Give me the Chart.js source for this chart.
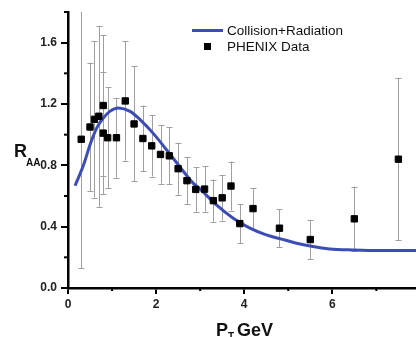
<!DOCTYPE html>
<html>
<head>
<meta charset="utf-8">
<script src="https://cdn.jsdelivr.net/npm/chart.js@4.4.1/dist/chart.umd.min.js"></script>
<style>
    html, body { margin: 0; padding: 0; background: #fff; }
    #wrap { width: 416px; height: 337px; }
</style>
</head>
<body>
<div id="wrap"><canvas id="raaChart" width="416" height="337"></canvas></div>
<script>
/* PHENIX data points (pT, R_AA, error) */
const ptX   = [0.3, 0.5, 0.6, 0.7, 0.8, 0.8, 0.9, 1.1, 1.3, 1.5, 1.7, 1.9, 2.1, 2.3, 2.5, 2.7, 2.9, 3.1, 3.3, 3.5, 3.7, 3.9, 4.2, 4.8, 5.5, 6.5, 7.5];
const ptY   = [0.97, 1.05, 1.10, 1.12, 1.19, 1.01, 0.98, 0.98, 1.22, 1.07, 0.975, 0.927, 0.871, 0.862, 0.778, 0.70, 0.643, 0.645, 0.57, 0.588, 0.665, 0.42, 0.518, 0.39, 0.316, 0.451, 0.84];
const ptErr = [0.84, 0.42, 0.51, 0.59, 0.46, 0.40, 0.33, 0.26, 0.39, 0.375, 0.215, 0.20, 0.19, 0.185, 0.17, 0.154, 0.145, 0.148, 0.137, 0.148, 0.16, 0.127, 0.133, 0.125, 0.128, 0.21, 0.527];

/* Collision+Radiation curve */
const curveX = [0.16, 0.35, 0.5, 0.65, 0.8, 0.95, 1.14, 1.41, 1.63, 1.93, 2.24, 2.54, 2.84, 3.0, 3.37, 3.75, 4.13, 4.5, 4.81, 5.19, 5.56, 5.94, 6.47, 7.07, 7.9];
const curveY = [0.667, 0.80, 0.934, 1.043, 1.108, 1.152, 1.174, 1.152, 1.10, 1.01, 0.90, 0.79, 0.684, 0.645, 0.542, 0.455, 0.39, 0.346, 0.322, 0.292, 0.27, 0.255, 0.248, 0.244, 0.244];

/* Axis ticks */
const xTicks = [0, 2, 4, 6];
const xMinor = [1, 3, 5, 7];
const yTicks = [0, 0.4, 0.8, 1.2, 1.6];
const yMinor = [0.2, 0.6, 1.0, 1.4, 1.8];

const FONT = '"Liberation Sans", Arial, sans-serif';

const errorBars = {
    id: 'errorBars',
    beforeDatasetsDraw(chart) {
        const { ctx, chartArea: a, scales: { x, y } } = chart;
        ctx.save();
        ctx.beginPath();
        ctx.rect(a.left, a.top, a.right - a.left, a.bottom - a.top);
        ctx.clip();
        ctx.strokeStyle = '#9f9f9f';
        ctx.lineWidth = 1;
        ptX.forEach((v, i) => {
            const px = Math.round(x.getPixelForValue(v)) + 0.5;
            const top = y.getPixelForValue(ptY[i] + ptErr[i]);
            const bot = y.getPixelForValue(ptY[i] - ptErr[i]);
            ctx.beginPath();
            ctx.moveTo(px, top);
            ctx.lineTo(px, bot);
            ctx.moveTo(px - 3, Math.round(top) + 0.5);
            ctx.lineTo(px + 3, Math.round(top) + 0.5);
            ctx.moveTo(px - 3, Math.round(bot) + 0.5);
            ctx.lineTo(px + 3, Math.round(bot) + 0.5);
            ctx.stroke();
        });
        ctx.restore();
    }
};

const extras = {
    id: 'extras',
    afterDraw(chart) {
        const { ctx, chartArea: a, scales: { x, y } } = chart;
        ctx.save();

        // minor ticks
        ctx.strokeStyle = '#000';
        ctx.lineWidth = 2;
        yMinor.forEach(v => {
            const py = y.getPixelForValue(v);
            ctx.beginPath();
            ctx.moveTo(a.left - 4, py);
            ctx.lineTo(a.left, py);
            ctx.stroke();
        });
        xMinor.forEach(v => {
            const px = x.getPixelForValue(v);
            ctx.beginPath();
            ctx.moveTo(px, a.bottom);
            ctx.lineTo(px, a.bottom + 3);
            ctx.stroke();
        });

        // axis titles
        ctx.fillStyle = '#111';
        ctx.textBaseline = 'alphabetic';
        ctx.textAlign = 'left';
        ctx.font = 'bold 18px ' + FONT;
        ctx.fillText('R', 14, 157);
        ctx.font = 'bold 10px ' + FONT;
        ctx.fillText('AA', 26, 166);

        ctx.font = 'bold 18px ' + FONT;
        ctx.fillText('P', 216, 336);
        ctx.font = 'bold 10px ' + FONT;
        ctx.fillText('T', 228, 340);
        ctx.font = 'bold 18px ' + FONT;
        ctx.fillText('GeV', 237, 336);

        // legend
        ctx.strokeStyle = '#3d4db7';
        ctx.lineWidth = 3;
        ctx.beginPath();
        ctx.moveTo(192, 30.5);
        ctx.lineTo(223, 30.5);
        ctx.stroke();
        ctx.fillStyle = '#000';
        ctx.fillRect(204, 43, 7, 7);
        ctx.font = '13.5px ' + FONT;
        ctx.textBaseline = 'middle';
        ctx.fillStyle = '#111';
        ctx.fillText('Collision+Radiation', 227, 31);
        ctx.fillText('PHENIX Data', 227, 47);

        ctx.restore();
    }
};

new Chart(document.getElementById('raaChart'), {
    type: 'scatter',
    data: {
        datasets: [
            {
                label: 'PHENIX Data',
                data: ptX.map((v, i) => ({ x: v, y: ptY[i] })),
                pointStyle: 'rect',
                pointRadius: 4.5,
                backgroundColor: '#000',
                borderColor: '#000',
                borderWidth: 1,
                order: 0,
            },
            {
                label: 'Collision+Radiation',
                data: curveX.map((v, i) => ({ x: v, y: curveY[i] })),
                showLine: true,
                pointRadius: 0,
                borderColor: '#3d4db7',
                borderWidth: 3,
                cubicInterpolationMode: 'monotone',
                order: 1,
            },
        ],
    },
    options: {
        responsive: false,
        animation: false,
        devicePixelRatio: 1,
        layout: { autoPadding: false, padding: { top: 12, right: 0, left: 0, bottom: 0 } },
        plugins: {
            legend: { display: false },
            tooltip: { enabled: false },
        },
        scales: {
            x: {
                type: 'linear',
                min: 0,
                max: 7.9,
                afterBuildTicks: s => { s.ticks = xTicks.map(v => ({ value: v })); },
                afterFit: s => { s.height = 49; },
                grid: { display: true, drawOnChartArea: false, drawTicks: true, tickLength: 6, color: '#000', lineWidth: 2 },
                border: { display: true, color: '#000', width: 2.5 },
                ticks: { color: '#222', padding: 3, font: { family: FONT, size: 12, weight: 'bold' } },
            },
            y: {
                min: 0,
                max: 1.8,
                afterBuildTicks: s => { s.ticks = yTicks.map(v => ({ value: v })); },
                afterFit: s => { s.width = 68; },
                grid: { display: true, drawOnChartArea: false, drawTicks: true, tickLength: 7, color: '#000', lineWidth: 2 },
                border: { display: true, color: '#000', width: 2.5 },
                ticks: {
                    color: '#222',
                    padding: 4,
                    font: { family: FONT, size: 12, weight: 'bold' },
                    callback: v => v.toFixed(1),
                },
            },
        },
    },
    plugins: [errorBars, extras],
});
</script>
</body>
</html>
